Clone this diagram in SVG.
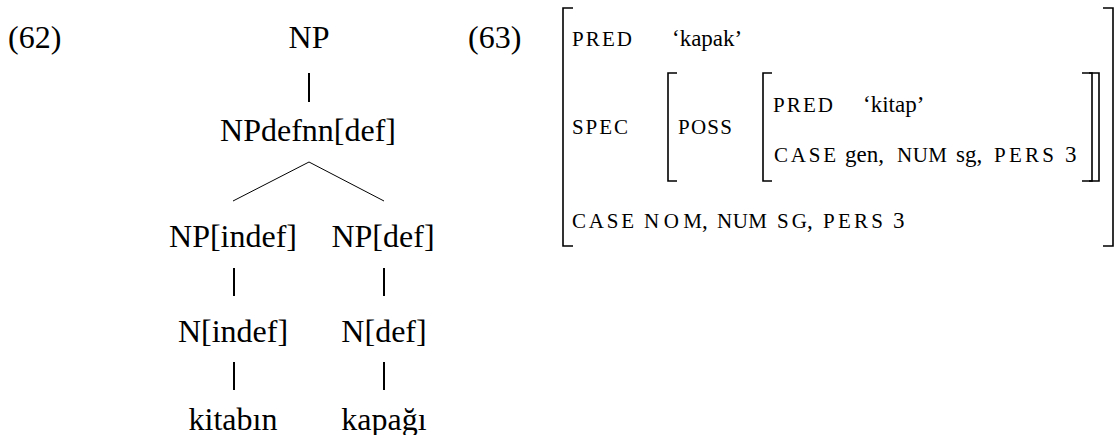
<svg xmlns="http://www.w3.org/2000/svg" width="1118" height="435" viewBox="0 0 1118 435">
<style>
.t{font-family:"Liberation Serif","Times New Roman",serif;font-size:32px;fill:#000}
.m{text-anchor:middle}
.a{font-family:"Liberation Serif","Times New Roman",serif;font-size:23px;fill:#000}
.sc{font-size:21px}
.e{stroke:#000;stroke-width:2;fill:none}
.d{stroke:#000;stroke-width:1;fill:none}
.br{stroke:#000;stroke-width:1.6;fill:none}
</style>
<rect width="1118" height="435" fill="#fff"/>
<g id="ex62"><text class="t" x="8" y="48">(62)</text></g>
<g id="ex63"><text class="t" x="468" y="48">(63)</text></g>
<g id="connectors">
<line class="e" x1="309" y1="73" x2="309" y2="102"/>
<line class="d" x1="309" y1="162" x2="233" y2="201"/>
<line class="d" x1="309" y1="162" x2="384" y2="201"/>
<line class="e" x1="234" y1="268" x2="234" y2="296"/>
<line class="e" x1="384" y1="268" x2="384" y2="296"/>
<line class="e" x1="234" y1="362" x2="234" y2="390"/>
<line class="e" x1="384" y1="362" x2="384" y2="390"/>
</g>
<g id="n-np"><text class="t m" x="309" y="48">NP</text></g>
<g id="n-npdefnn"><text class="t m" x="308" y="141">NPdefnn[def]</text></g>
<g id="n-np-indef"><text class="t m" x="233" y="247">NP[indef]</text></g>
<g id="n-np-def"><text class="t m" x="383" y="247">NP[def]</text></g>
<g id="n-n-indef"><text class="t m" x="233" y="342">N[indef]</text></g>
<g id="n-n-def"><text class="t m" x="384" y="342">N[def]</text></g>
<g id="n-kitabin"><text class="t m" x="233" y="430">kitabın</text></g>
<g id="n-kapagi"><text class="t m" x="384" y="430">kapağı</text></g>
<g id="avm">
<path class="br" d="M573,8 H563 V246 H573"/>
<path class="br" d="M1103,8 H1113 V246 H1103"/>
<path class="br" d="M677,73 H668 V181 H677"/>
<path class="br" d="M772,73 H763 V181 H772"/>
<path class="br" d="M1082,73 H1092 V181 H1082"/>
<path class="br" d="M1089,73 H1099 V181 H1089"/>
<text class="a"><tspan class="sc" x="572" y="46" textLength="60" lengthAdjust="spacing">PRED</tspan><tspan x="672" y="46">‘kapak’</tspan></text>
<text class="a"><tspan class="sc" x="572" y="134" textLength="56" lengthAdjust="spacing">SPEC</tspan><tspan class="sc" x="678" y="134" textLength="54" lengthAdjust="spacing">POSS</tspan></text>
<text class="a"><tspan class="sc" x="773" y="112" textLength="60" lengthAdjust="spacing">PRED</tspan><tspan x="863" y="112">‘kitap’</tspan></text>
<text class="a"><tspan class="sc" x="774" y="162" textLength="62" lengthAdjust="spacing">CASE</tspan><tspan x="845" y="162">gen,</tspan><tspan class="sc" x="897" y="162" textLength="50" lengthAdjust="spacing">NUM</tspan><tspan x="956" y="162">sg,</tspan><tspan class="sc" x="994" y="162" textLength="60" lengthAdjust="spacing">PERS</tspan><tspan x="1065" y="162">3</tspan></text>
<text class="a"><tspan class="sc" x="572" y="228" textLength="62" lengthAdjust="spacing">CASE</tspan><tspan class="sc" x="644" y="228" textLength="58" lengthAdjust="spacing">NOM</tspan><tspan x="702" y="228">,</tspan><tspan class="sc" x="717" y="228" textLength="50" lengthAdjust="spacing">NUM</tspan><tspan class="sc" x="777" y="228" textLength="30" lengthAdjust="spacing">SG</tspan><tspan x="807" y="228">,</tspan><tspan class="sc" x="823" y="228" textLength="60" lengthAdjust="spacing">PERS</tspan><tspan x="893" y="228">3</tspan></text>
</g>
</svg>
